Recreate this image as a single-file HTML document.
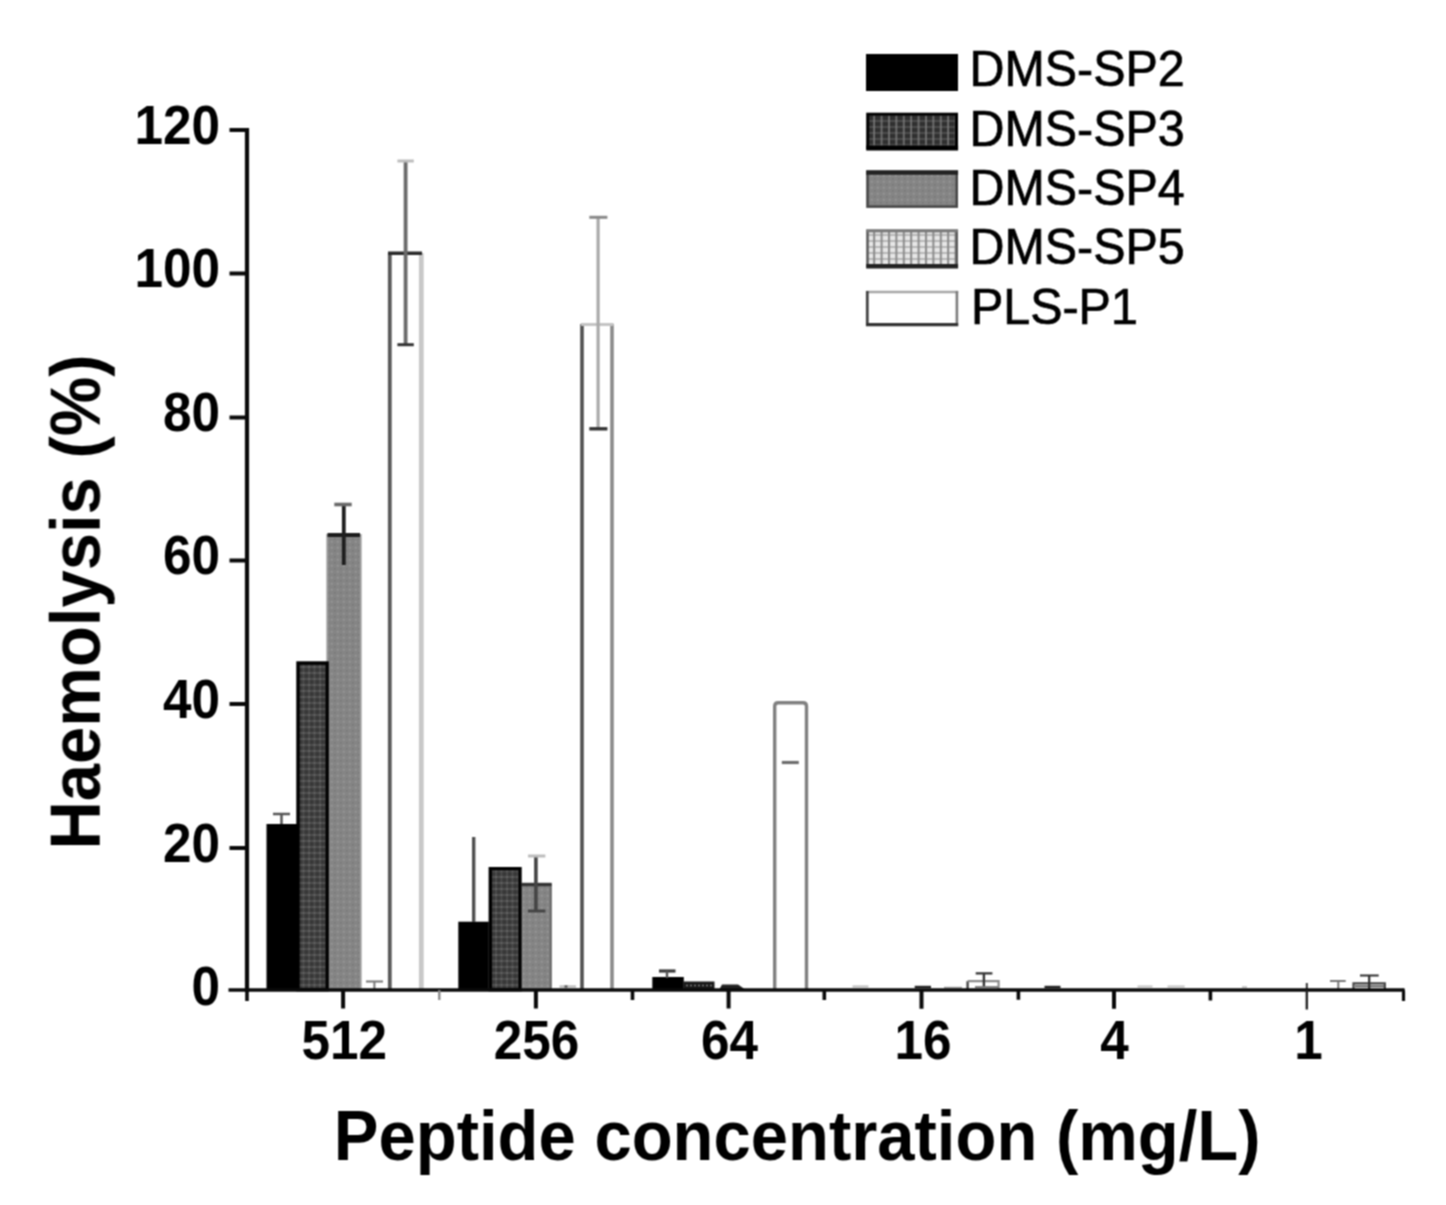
<!DOCTYPE html>
<html lang="en">
<head>
<meta charset="utf-8">
<title>Haemolysis vs peptide concentration</title>
<style>
  html, body { margin: 0; padding: 0; background: #ffffff; }
  body { width: 1446px; height: 1205px; overflow: hidden; position: relative; }
  svg { position: absolute; left: 0; top: 0; display: block; }
  text { font-family: "Liberation Sans", Arial, Helvetica, sans-serif; fill: #000; }
  .tick { font-weight: bold; font-size: 51.3px; }
  .axis-title { font-weight: bold; font-size: 67px; }
  .legend { font-size: 48.4px; stroke: #000; stroke-width: 0.7px; }
</style>
</head>
<body>
<svg width="1446" height="1205" viewBox="0 0 1446 1205">
  <defs>
    <!-- dark crosshatch grid (DMS-SP3) -->
    <pattern id="pGrid" width="5.5" height="6" patternUnits="userSpaceOnUse">
      <rect width="5.5" height="6" fill="#383838"/>
      <path d="M0 1H5.5" stroke="#5d5d5d" stroke-width="1.2" fill="none"/>
      <path d="M1 0V6" stroke="#555555" stroke-width="1.2" fill="none"/>
      <rect x="0.4" y="0.4" width="1.2" height="1.2" fill="#7c7c7c"/>
    </pattern>
    <pattern id="pGridL" width="7.4" height="6" patternUnits="userSpaceOnUse">
      <rect width="7.4" height="6" fill="#303030"/>
      <path d="M0 1H7.4" stroke="#5a5a5a" stroke-width="1.3" fill="none"/>
      <path d="M1 0V6" stroke="#7c7c7c" stroke-width="1.5" fill="none"/>
    </pattern>
    <!-- gray dotted (DMS-SP4) -->
    <pattern id="pDots" width="6" height="6" patternUnits="userSpaceOnUse">
      <rect width="6" height="6" fill="#858585"/>
      <rect x="1" y="1" width="1.5" height="1.5" fill="#9c9c9c"/>
      <rect x="4" y="4" width="1.5" height="1.5" fill="#767676"/>
    </pattern>
    <!-- light grid (DMS-SP5) -->
    <pattern id="pLight" width="7.4" height="6" patternUnits="userSpaceOnUse">
      <rect width="7.4" height="6" fill="#e6e6e6"/>
      <path d="M0 1H7.4" stroke="#adadad" stroke-width="1.6" fill="none"/>
      <path d="M1 0V6" stroke="#8a8a8a" stroke-width="2" fill="none"/>
    </pattern>
    <filter id="soft" filterUnits="userSpaceOnUse" x="0" y="0" width="1446" height="1205" color-interpolation-filters="sRGB">
      <feConvolveMatrix order="3" kernelMatrix="1 2 1 2 4 2 1 2 1" divisor="16" edgeMode="duplicate" preserveAlpha="false"/>
    </filter>
  </defs>

  <rect x="0" y="0" width="1446" height="1205" fill="#ffffff"/>

  <g id="chart" filter="url(#soft)">

  <!-- ===== bars: group 512 ===== -->
  <g id="g512">
    <rect x="266.5" y="824" width="31" height="166" fill="#000"/>
    <path d="M281.5 824V814M273 814H290" stroke="#555" stroke-width="2.5" fill="none"/>
    <rect x="327.4" y="535" width="33.2" height="455" fill="url(#pDots)" stroke="#9a9a9a" stroke-width="2"/>
    <path d="M327.5 535H360" stroke="#1c1c1c" stroke-width="4" fill="none"/>
    <rect x="298" y="663" width="29.1" height="326.7" fill="url(#pGrid)" stroke="#000" stroke-width="3.4"/>
    <path d="M343.8 503V565" stroke="#1e1e1e" stroke-width="3.8" fill="none"/>
    <path d="M334.3 504.5H351.7" stroke="#6a6a6a" stroke-width="3.6" fill="none"/>
    <path d="M374.4 989V981.5M366 981.5H383" stroke="#777" stroke-width="2" fill="none"/>
    <path d="M389.8 990V253" stroke="#5a5a5a" stroke-width="3.8" fill="none"/>
    <path d="M421.3 990V253" stroke="#c8c8c8" stroke-width="4.8" fill="none"/>
    <path d="M388 253.2H422" stroke="#2a2a2a" stroke-width="3.4" fill="none"/>
    <path d="M405.6 161V345" stroke="#6a6a6a" stroke-width="3.8" fill="none"/>
    <path d="M397.4 161H413.8" stroke="#bdbdbd" stroke-width="3" fill="none"/>
    <path d="M397.4 344.7H413.8" stroke="#333" stroke-width="3" fill="none"/>
  </g>

  <!-- ===== bars: group 256 ===== -->
  <g id="g256">
    <rect x="458.3" y="921.7" width="30.5" height="68" fill="#000"/>
    <path d="M473.7 922V837" stroke="#505050" stroke-width="3.4" fill="none"/>
    <rect x="522" y="884.5" width="29" height="105" fill="url(#pDots)" stroke="#8a8a8a" stroke-width="1.6"/>
    <path d="M521.7 884.5H551.7" stroke="#333" stroke-width="3.4" fill="none"/>
    <path d="M550.6 886V990" stroke="#6a6a6a" stroke-width="2" fill="none"/>
    <rect x="490.3" y="868.7" width="29.7" height="121" fill="url(#pGrid)" stroke="#000" stroke-width="3.4"/>
    <path d="M535.9 856V911" stroke="#444" stroke-width="3.6" fill="none"/>
    <path d="M528 856H545.4" stroke="#bdbdbd" stroke-width="3" fill="none"/>
    <path d="M528 911H545.4" stroke="#444" stroke-width="3" fill="none"/>
    <path d="M559.5 986.5H576" stroke="#bbb" stroke-width="2.2" fill="none"/>
    <path d="M564.5 986.5H567.5" stroke="#555" stroke-width="2.2" fill="none"/>
    <path d="M582 990V324" stroke="#505050" stroke-width="3.6" fill="none"/>
    <path d="M612 990V324" stroke="#8a8a8a" stroke-width="3.6" fill="none"/>
    <path d="M581 324.5H613.5" stroke="#c4c4c4" stroke-width="3" fill="none"/>
    <path d="M598.1 217V429" stroke="#a9a9a9" stroke-width="3.2" fill="none"/>
    <path d="M589.3 217.3H607.4" stroke="#8a8a8a" stroke-width="3" fill="none"/>
    <path d="M589.3 428.8H607.4" stroke="#333" stroke-width="3.4" fill="none"/>
  </g>

  <!-- ===== bars: group 64 ===== -->
  <g id="g64">
    <rect x="652.3" y="977" width="31.5" height="13" fill="#000"/>
    <path d="M659 971H675.5" stroke="#3a3a3a" stroke-width="3.2" fill="none"/>
    <path d="M667 971V978" stroke="#555" stroke-width="2.4" fill="none"/>
    <rect x="683.5" y="981.5" width="31" height="8.5" fill="#1a1a1a"/>
    <path d="M686 985.5H712" stroke="#777" stroke-width="1.4" stroke-dasharray="2 2" fill="none"/>
    <path d="M719 990L722 984.5H738L746 990Z" fill="#222"/>
    <path d="M774.7 990V706.2Q774.7 702.7 778.2 702.7H803Q806.5 702.7 806.5 706.2V990" fill="none" stroke="#808080" stroke-width="3.4"/>
    <path d="M781.8 762.5H798.8" stroke="#6e6e6e" stroke-width="3.2" fill="none"/>
  </g>

  <!-- ===== bars: group 16 ===== -->
  <g id="g16">
    <path d="M852.5 986.5H868.5" stroke="#bbb" stroke-width="2" fill="none"/>
    <path d="M914.7 987H931" stroke="#222" stroke-width="2.4" fill="none"/>
    <path d="M944 987.6H962" stroke="#9a9a9a" stroke-width="1.6" fill="none"/>
    <path d="M967.6 990V981.2" stroke="#444" stroke-width="2.4" fill="none"/>
    <path d="M967.6 981.2H998.6V990" stroke="#8a8a8a" stroke-width="2.2" fill="none"/>
    <path d="M983.9 973.4V987M975.7 973.4H992.4" stroke="#333" stroke-width="2.4" fill="none"/>
    <path d="M975 987H998" stroke="#777" stroke-width="1.8" fill="none"/>
  </g>

  <!-- ===== bars: group 4 ===== -->
  <g id="g4">
    <path d="M1044.5 987H1060.5" stroke="#222" stroke-width="2.4" fill="none"/>
    <path d="M1137.5 986.5H1152.5" stroke="#c2c2c2" stroke-width="2" fill="none"/>
    <path d="M1167.5 986.5H1184.6" stroke="#c2c2c2" stroke-width="2" fill="none"/>
  </g>

  <!-- ===== bars: group 1 ===== -->
  <g id="g1">
    <path d="M1242 987H1247" stroke="#bbb" stroke-width="1.6" fill="none"/>
    <path d="M1306.8 983V992" stroke="#333" stroke-width="2" fill="none"/>
    <path d="M1338.3 981V989M1330 981H1345.7" stroke="#777" stroke-width="2" fill="none"/>
    <path d="M1353.5 990V983.4H1384.8V990" stroke="#444" stroke-width="2.2" fill="none"/>
    <path d="M1355 986.3H1384" stroke="#555" stroke-width="1.8" fill="none"/>
    <path d="M1369.2 975.5V990M1360 975.5H1378.7" stroke="#2e2e2e" stroke-width="2.2" fill="none"/>
  </g>

  <!-- ===== axes ===== -->
  <g id="axes" stroke="#0a0a0a" fill="none">
    <path d="M247 128V992" stroke-width="4.2"/>
    <path d="M228.5 990H1404.5" stroke-width="3.7"/>
    <!-- y ticks -->
    <path d="M229.5 130H247M229.5 273.5H247M229.5 417.5H247M229.5 560.5H247M229.5 704H247M229.5 848H247" stroke-width="4"/>
    <!-- x major ticks -->
    <path d="M343.1 990V1008.6M535.9 990V1008.6M728.6 990V1008.6M921.5 990V1008.8M1114 990V1008.8" stroke-width="4"/>
    <path d="M1306.8 990V1009.5" stroke-width="2.4" stroke="#222"/>
    <!-- x minor ticks -->
    <path d="M247 990V1001M632.5 990V1000M824.3 990V1000M1018.4 990V999.8M1210.4 990V1000.5" stroke-width="3.6"/>
    <path d="M439.3 990V1000" stroke-width="2.4" stroke="#8a8a8a"/>
    <path d="M1402.8 990Q1403.5 990 1403.5 992V1001" stroke-width="3.2"/>
  </g>

  <!-- ===== tick labels ===== -->
  <g class="tick" text-anchor="end">
    <text transform="translate(220 143.5) scale(1 1.09)">120</text>
    <text transform="translate(220 287) scale(1 1.09)">100</text>
    <text transform="translate(220 431) scale(1 1.09)">80</text>
    <text transform="translate(220 574) scale(1 1.09)">60</text>
    <text transform="translate(220 717.5) scale(1 1.09)">40</text>
    <text transform="translate(220 862) scale(1 1.09)">20</text>
    <text transform="translate(220 1005) scale(1 1.09)">0</text>
  </g>
  <g class="tick" text-anchor="middle">
    <text transform="translate(344.2 1059) scale(1 1.075)">512</text>
    <text transform="translate(536.5 1059) scale(1 1.075)">256</text>
    <text transform="translate(729.4 1059) scale(1 1.075)">64</text>
    <text transform="translate(923 1059) scale(1 1.075)">16</text>
    <text transform="translate(1114.4 1059) scale(1 1.075)">4</text>
    <text transform="translate(1308.5 1059) scale(1 1.075)">1</text>
  </g>

  <!-- ===== axis titles ===== -->
  <text class="axis-title" text-anchor="middle" transform="translate(797.2 1159.5) scale(1 1.04)">Peptide concentration (mg/L)</text>
  <text class="axis-title" text-anchor="middle" transform="translate(100.2 602) rotate(-90) scale(1 1.04)">Haemolysis (%)</text>

  <!-- ===== legend ===== -->
  <g id="legend">
    <rect x="866" y="54" width="92" height="37" fill="#000"/>
    <rect x="867.7" y="114.2" width="88.8" height="33.4" fill="url(#pGridL)" stroke="#000" stroke-width="3"/>
    <path d="M866.2 148H958.1" stroke="#000" stroke-width="5"/>
    <rect x="867.5" y="172" width="89.2" height="34.6" fill="url(#pDots)" stroke="#484848" stroke-width="2.6"/>
    <path d="M866.2 172.5H958.1" stroke="#222" stroke-width="4.4"/>
    <rect x="867.5" y="230.8" width="89.2" height="35.6" fill="url(#pLight)" stroke="#5e5e5e" stroke-width="2.6"/>
    <path d="M866.2 230.8H958.1" stroke="#7a7a7a" stroke-width="2.8"/>
    <path d="M866.2 266.3H958.1" stroke="#222" stroke-width="4.6"/>
    <rect x="867.3" y="292" width="89.6" height="32.6" fill="#fff" stroke="none"/>
    <path d="M866 292H958.2" stroke="#a6a6a6" stroke-width="2.6" fill="none"/>
    <path d="M956.9 291V326" stroke="#7c7c7c" stroke-width="2.6" fill="none"/>
    <path d="M867.3 291V326" stroke="#444" stroke-width="2.8" fill="none"/>
    <path d="M866 324.6H958.2" stroke="#333" stroke-width="3.2" fill="none"/>
    <g class="legend">
      <text transform="translate(969.5 86.3) scale(1 1.045)">DMS-SP2</text>
      <text transform="translate(969.5 145.5) scale(1 1.045)">DMS-SP3</text>
      <text transform="translate(969.5 204.7) scale(1 1.045)">DMS-SP4</text>
      <text transform="translate(969.5 263.7) scale(1 1.045)">DMS-SP5</text>
      <text transform="translate(971 324.3) scale(1 1.045)">PLS-P1</text>
    </g>
  </g>

  </g>
</svg>
</body>
</html>
